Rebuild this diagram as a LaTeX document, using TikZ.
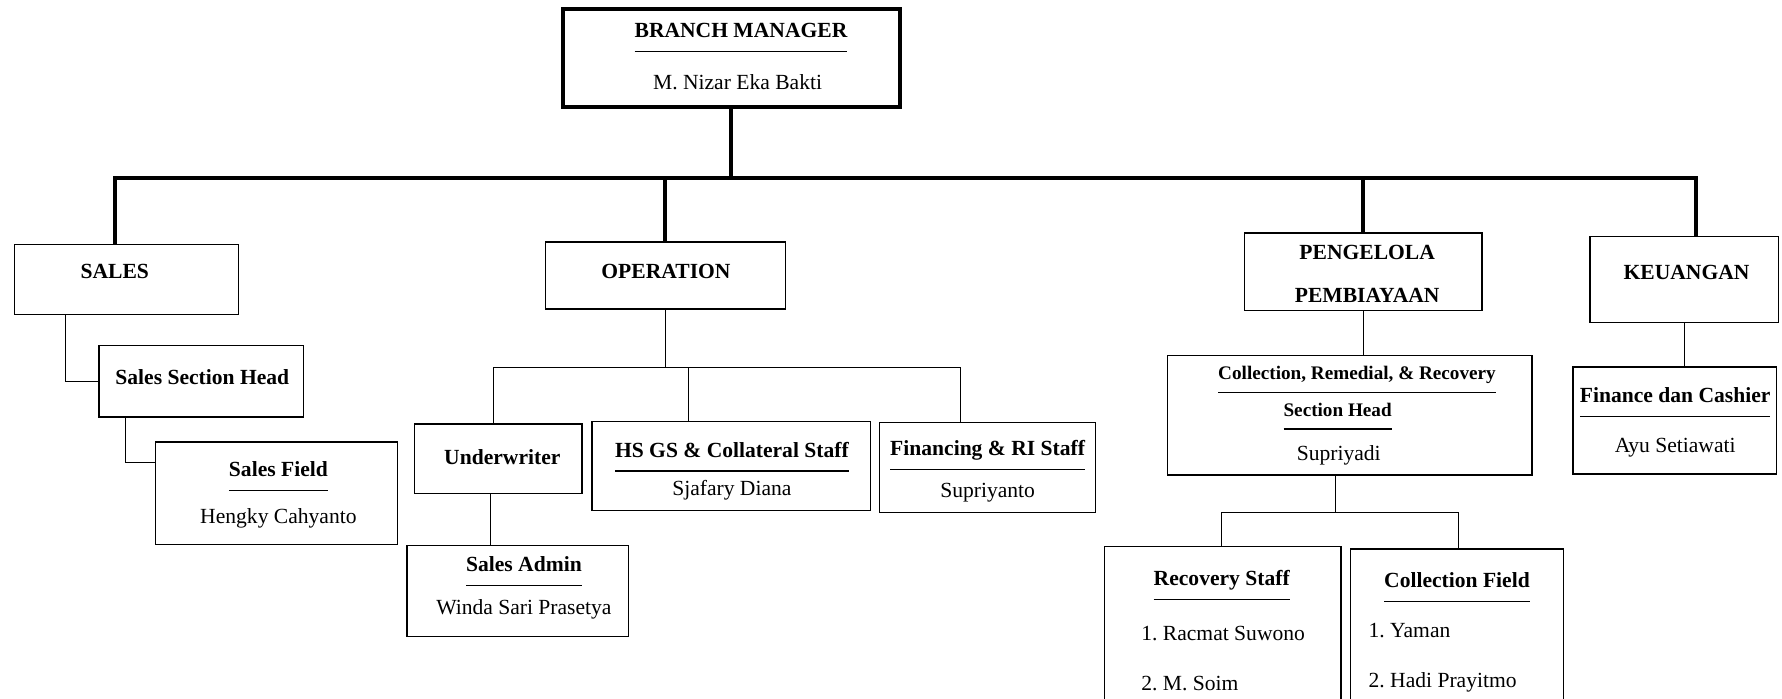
\documentclass[tikz,border=0pt]{standalone}
\usepackage{fontspec}
\setmainfont{Liberation Serif}
\usetikzlibrary{calc,fit}
\setlength{\arrayrulewidth}{0.8pt}
\frenchspacing
\def\ultitle#1{\begin{tabular}[b]{@{}c@{}}\bfseries #1\\[3.5pt]\hline\end{tabular}}
\tikzset{
	orgbox/.style={draw, line width=0.8pt, inner sep=0pt},
	headbox/.style={orgbox, line width=2.5pt},
	busline/.style={line width=2.5pt},
	subline/.style={line width=0.6pt},
	boxtext/.style={inner sep=0pt, anchor=base, font=\fontsize{13.5}{16}\selectfont},
	smalltext/.style={boxtext, font=\fontsize{12}{14}\selectfont},
}

\begin{document}
\begin{tikzpicture}[x=0.025cm, y=-0.025cm]
	%%%%% START %%%%%
	\useasboundingbox (0,0) rectangle (1568,615);
	\clip (0,0) rectangle (1568,615);
	
	% boxes
	\node[headbox, fit={(495,8) (792,94)}] (manager) {};
	
	\node[orgbox, fit={(13,215) (210,277)}] (sales) {};
	\node[orgbox, fit={(480,213) (691,272)}] (operation) {};
	\node[orgbox, fit={(1095,205) (1304,273)}] (pengelola) {};
	\node[orgbox, fit={(1399,208) (1565,284)}] (keuangan) {};
	
	\node[orgbox, fit={(87,304) (267,367)}] (secthead) {};
	\node[orgbox, fit={(137,389) (350,479)}] (salesfield) {};
	
	\node[orgbox, fit={(365,373) (512,434)}] (underwriter) {};
	\node[orgbox, fit={(521,371) (766,449)}] (hsgs) {};
	\node[orgbox, fit={(774,372) (964,451)}] (finstaff) {};
	\node[orgbox, fit={(358,480) (553,560)}] (salesadmin) {};
	
	\node[orgbox, fit={(1027,313) (1348,418)}] (crr) {};
	\node[orgbox, fit={(972,481) (1180,640)}] (recovery) {};
	\node[orgbox, fit={(1188,483) (1376,640)}] (collfield) {};
	
	\node[orgbox, fit={(1384,323) (1563,417)}] (finance) {};
	
	% texts
	\node[boxtext] (managertitle) at (652,46) {\ultitle{BRANCH MANAGER}};
	\node[boxtext] (managername) at (649,79) {M. Nizar Eka Bakti};
	
	\node[boxtext] (salestxt) at (101,245) {\bfseries SALES};
	\node[boxtext] (operationtxt) at (586,245) {\bfseries OPERATION};
	\node[boxtext] (pengelolatxt) at (1203,228) {\bfseries PENGELOLA};
	\node[boxtext] (pembiayaantxt) at (1203,266) {\bfseries PEMBIAYAAN};
	\node[boxtext] (keuangantxt) at (1484,246) {\bfseries KEUANGAN};
	
	\node[boxtext] (sectheadtxt) at (178,338) {\bfseries Sales Section Head};
	\node[boxtext] (salesfieldtitle) at (245,432) {\ultitle{Sales Field}};
	\node[boxtext] (salesfieldname) at (245,461) {Hengky Cahyanto};
	
	\node[boxtext] (underwritertxt) at (442,409) {\bfseries Underwriter};
	\node[boxtext] (hsgstitle) at (644,415) {\ultitle{HS GS \& Collateral Staff}};
	\node[boxtext] (hsgsname) at (644,436) {Sjafary Diana};
	\node[boxtext] (finstafftitle) at (869,414) {\ultitle{Financing \& RI Staff}};
	\node[boxtext] (finstaffname) at (869,438) {Supriyanto};
	\node[boxtext] (salesadmintitle) at (461,516) {\ultitle{Sales Admin}};
	\node[boxtext] (salesadminname) at (461,541) {Winda Sari Prasetya};
	
	\node[smalltext] (crrtitle) at (1194,346) {\ultitle{Collection, Remedial, \& Recovery}};
	\node[smalltext] (crrsub) at (1177,378) {\ultitle{Section Head}};
	\node[boxtext] (crrname) at (1178,405) {Supriyadi};
	
	\node[boxtext] (rectitle) at (1075,528) {\ultitle{Recovery Staff}};
	\node[boxtext, anchor=base west] (rec1) at (1004,564) {1. Racmat Suwono};
	\node[boxtext, anchor=base west] (rec2) at (1004,608) {2. M. Soim};
	
	\node[boxtext] (colltitle) at (1282,530) {\ultitle{Collection Field}};
	\node[boxtext, anchor=base west] (coll1) at (1204,561) {1. Yaman};
	\node[boxtext, anchor=base west] (coll2) at (1204,605) {2. Hadi Prayitmo};
	
	\node[boxtext] (financetitle) at (1474,367) {\ultitle{Finance dan Cashier}};
	\node[boxtext] (financename) at (1474,398) {Ayu Setiawati};
	
	%%%%% LINES %%%%%
	\coordinate (busL) at (101,157);
	\coordinate (busR) at (1492,157);
	\draw[busline] (busL |- sales.north) -- (busL) -- (busR) -- (busR |- keuangan.north);
	\draw[busline] (manager.south) -- (manager.south |- busL);
	\draw[busline] (operation.north) -- (operation.north |- busL);
	\draw[busline] (pengelola.north) -- (pengelola.north |- busL);
	
	\coordinate (salesdrop) at (58,0);
	\coordinate (headdrop) at (110,0);
	\coordinate (fieldin) at (0,407);
	\draw[subline] (salesdrop |- sales.south) |- (secthead.west);
	\draw[subline] (headdrop |- secthead.south) |- (salesfield.west |- fieldin);
	
	\coordinate (opL) at (434,323);
	\coordinate (opM) at (606,323);
	\coordinate (opR) at (845,323);
	\coordinate (uwdrop) at (432,0);
	\draw[subline] (operation.south) -- (operation.south |- opL);
	\draw[subline] (opL |- underwriter.north) -- (opL) -- (opR) -- (opR |- finstaff.north);
	\draw[subline] (opM) -- (opM |- hsgs.north);
	\draw[subline] (uwdrop |- underwriter.south) -- (uwdrop |- salesadmin.north);
	
	\coordinate (crrL) at (1075,451);
	\coordinate (crrM) at (1175,451);
	\coordinate (crrR) at (1283,451);
	\draw[subline] (pengelola.south) -- (pengelola.south |- crr.north);
	\draw[subline] (crrM |- crr.south) -- (crrM);
	\draw[subline] (crrL |- recovery.north) -- (crrL) -- (crrR) -- (crrR |- collfield.north);
	
	\draw[subline] (keuangan.south) -- (keuangan.south |- finance.north);
	%%%%% END %%%%%
\end{tikzpicture}
\end{document}
